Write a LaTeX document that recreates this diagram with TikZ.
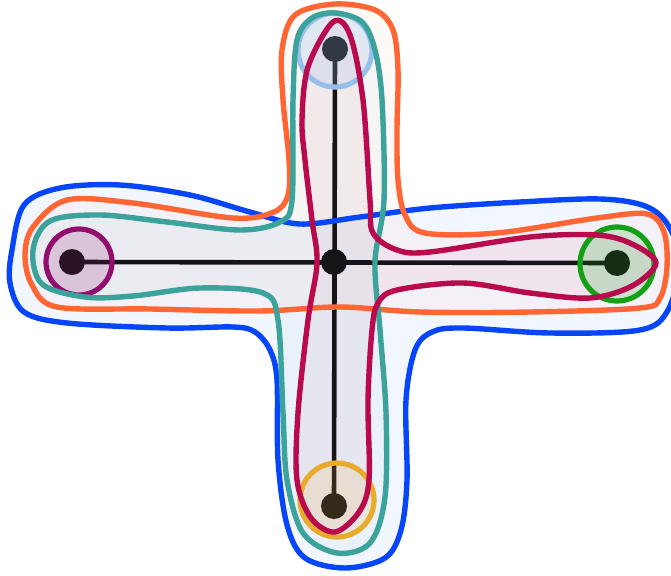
\documentclass[tikz,border=0pt]{standalone}
\begin{document}
\begin{tikzpicture}[x=1pt,y=-1pt,
  setline/.style={line width=5.4pt,line join=round},
  ring/.style={line width=5.2pt},
  vtx/.style={circle,fill=vblack,minimum size=26pt,inner sep=0pt},
  edgeline/.style={line width=4.6pt,draw=vblack}]
\definecolor{cblue}{HTML}{0646F8}
\definecolor{corange}{HTML}{FF6633}
\definecolor{cteal}{HTML}{3BA39B}
\definecolor{ccrim}{HTML}{B80A4C}
\definecolor{cpurple}{HTML}{920E6C}
\definecolor{cgreen}{HTML}{14A014}
\definecolor{cyellow}{HTML}{E9AB2C}
\definecolor{clblue}{HTML}{98BEEA}
\definecolor{vblack}{HTML}{161416}
\clip (0,0) rectangle (671,575);
\def\bluepath{plot[smooth cycle,tension=0.55] coordinates {(12,250) (24,205) (60,188) (120,185) (190,195) (250,212) (300,224) (360,217) (430,208) (520,202) (600,199) (645,206) (668,225) (680,262) (668,310) (640,330) (550,333) (463,328) (432,332) (415,350) (406,400) (407,480) (401,530) (385,558) (345,568) (305,558) (287,525) (278,460) (277,380) (270,350) (255,332) (233,327) (167,328) (67,323) (24,312) (10,283)}}
\def\orangepath{plot[smooth cycle,tension=0.55] coordinates {(335,4) (375,10) (393,30) (398,70) (397,130) (398,180) (405,215) (425,233) (497,233) (597,218) (647,214) (664,232) (667,267) (660,298) (640,308) (530,312) (420,312) (340,307) (260,311) (150,309) (57,307) (32,285) (25,255) (33,227) (67,200) (133,203) (233,218) (274,212) (288,195) (289,160) (283,100) (282,50) (295,15)}}
\def\tealpath{plot[smooth cycle,tension=0.55] coordinates {(335,13) (362,22) (375,50) (382,100) (384,200) (375,262) (380,330) (386,413) (385,497) (370,543) (337,553) (303,533) (287,480) (283,413) (278,320) (263,293) (200,288) (133,296) (85,297) (42,284) (33,250) (50,221) (100,215) (167,222) (240,230) (280,222) (292,200) (293,100) (297,40) (312,18)}}
\def\crimpath{plot[smooth cycle,tension=0.55] coordinates {(333,22) (350,35) (363,100) (370,200) (373,233) (397,250) (430,252) (530,237) (597,235) (632,244) (656,263) (632,286) (590,298) (530,293) (463,283) (397,290) (378,303) (372,330) (368,400) (369,480) (359,512) (335,532) (311,518) (297,480) (298,413) (308,320) (317,263) (312,220) (305,160) (302,120) (308,67)}}
% set fills
\fill[cblue,fill opacity=0.05] \bluepath;
\fill[corange,fill opacity=0.04] \orangepath;
\fill[cteal,fill opacity=0.05] \tealpath;
\fill[ccrim,fill opacity=0.05] \crimpath;
% vertices and edges
\node[vtx] (c) at (334,262) {};
\node[vtx] (t) at (335,49) {};
\node[vtx] (l) at (72,262) {};
\node[vtx] (r) at (617,263) {};
\node[vtx] (b) at (334,506) {};
\draw[edgeline] (t.center) -- (b.center);
\draw[edgeline] (l.center) -- (r.center);
% singleton rings
\draw[ring,draw=clblue,fill=clblue,fill opacity=0.22] (335,50) circle (37);
\draw[ring,draw=cpurple,fill=cpurple,fill opacity=0.18] (79,262) circle (33);
\draw[ring,draw=cgreen,fill=cgreen,fill opacity=0.18] (617,264) circle (37);
\draw[ring,draw=cyellow,fill=cyellow,fill opacity=0.15] (337,500) circle (37);
% set outlines
\draw[setline,cblue] \bluepath;
\draw[setline,corange] \orangepath;
\draw[setline,cteal] \tealpath;
\draw[setline,ccrim] \crimpath;
\end{tikzpicture}
\end{document}
